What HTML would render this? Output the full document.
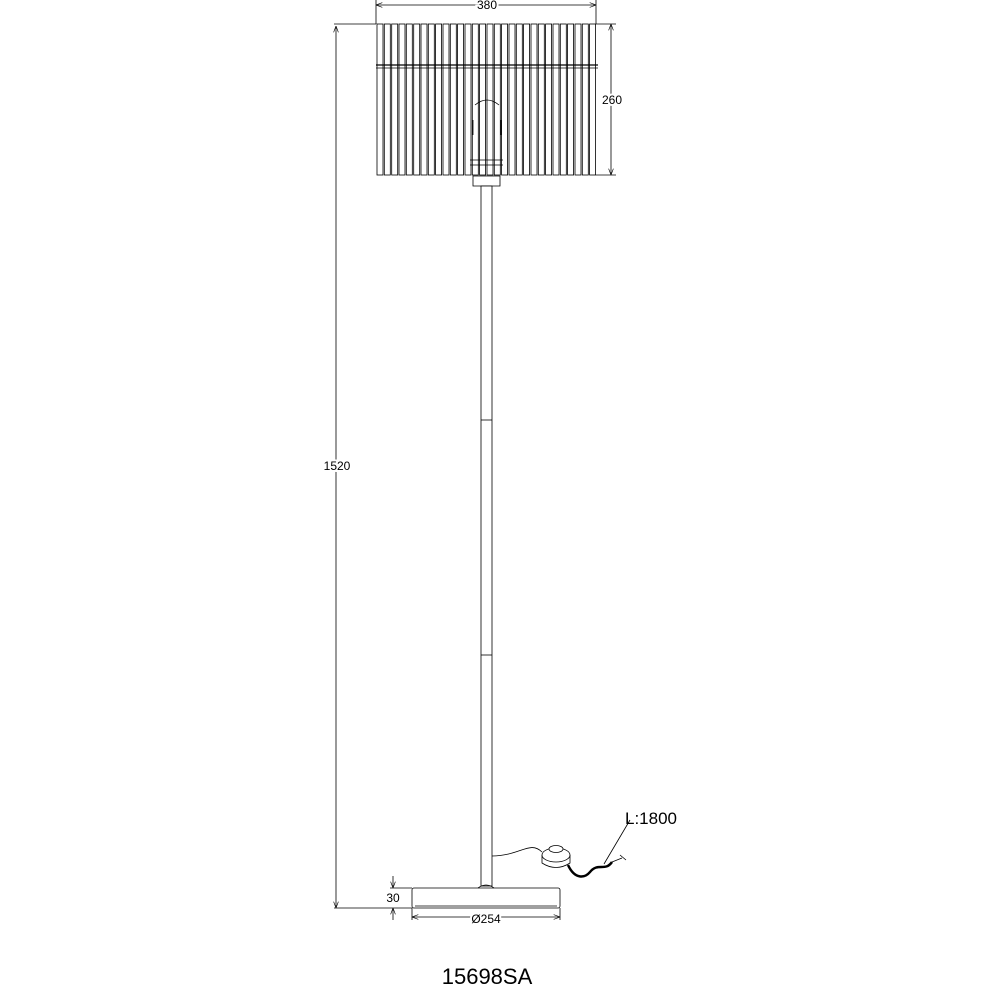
<!DOCTYPE html>
<html><head><style>body{margin:0;background:#fff}svg{display:block}</style></head><body>
<svg width="1000" height="1000" viewBox="0 0 1000 1000" xmlns="http://www.w3.org/2000/svg" font-family="Liberation Sans, sans-serif">
<defs><marker id="a" markerWidth="8" markerHeight="6" refX="8" refY="3" orient="auto-start-reverse"><path d="M0,0 L8,3 L0,6" fill="none" stroke="#000" stroke-width="0.8"/></marker></defs>
<g stroke="#000" fill="none" stroke-width="0.8">
<line x1="376" y1="0" x2="376" y2="24"/><line x1="596" y1="0" x2="596" y2="24"/>
<line x1="376" y1="5" x2="596" y2="5" marker-start="url(#a)" marker-end="url(#a)"/>
<line x1="596" y1="24" x2="616" y2="24"/><line x1="596" y1="175" x2="616" y2="175"/>
<line x1="611" y1="24" x2="611" y2="175" marker-start="url(#a)" marker-end="url(#a)"/>
<line x1="334" y1="24" x2="376" y2="24"/><line x1="334" y1="908" x2="412" y2="908"/>
<line x1="336" y1="26" x2="336" y2="908" marker-start="url(#a)" marker-end="url(#a)"/>
<line x1="390" y1="888" x2="412" y2="888"/>
<line x1="393" y1="876" x2="393" y2="888" marker-end="url(#a)"/>
<line x1="393" y1="920" x2="393" y2="908" marker-end="url(#a)"/>
<line x1="412" y1="908" x2="412" y2="920"/><line x1="560" y1="908" x2="560" y2="920"/>
<line x1="412" y1="917" x2="560" y2="917" marker-start="url(#a)" marker-end="url(#a)"/>
<g>
<rect x="377" y="24" width="6" height="151"/><rect x="384.3" y="24" width="6" height="151"/><rect x="391.7" y="24" width="6" height="151"/><rect x="399" y="24" width="6" height="151"/><rect x="406.3" y="24" width="6" height="151"/><rect x="413.7" y="24" width="6" height="151"/><rect x="421" y="24" width="6" height="151"/><rect x="428.3" y="24" width="6" height="151"/><rect x="435.6" y="24" width="6" height="151"/><rect x="443" y="24" width="6" height="151"/><rect x="450.3" y="24" width="6" height="151"/><rect x="457.6" y="24" width="6" height="151"/><rect x="465" y="24" width="6" height="151"/><rect x="472.3" y="24" width="6" height="151"/><rect x="479.6" y="24" width="6" height="151"/><rect x="487" y="24" width="6" height="151"/><rect x="494.3" y="24" width="6" height="151"/><rect x="501.6" y="24" width="6" height="151"/><rect x="509" y="24" width="6" height="151"/><rect x="516.3" y="24" width="6" height="151"/><rect x="523.6" y="24" width="6" height="151"/><rect x="531" y="24" width="6" height="151"/><rect x="538.3" y="24" width="6" height="151"/><rect x="545.6" y="24" width="6" height="151"/><rect x="553" y="24" width="6" height="151"/><rect x="560.3" y="24" width="6" height="151"/><rect x="567.6" y="24" width="6" height="151"/><rect x="575" y="24" width="6" height="151"/><rect x="582.3" y="24" width="6" height="151"/><rect x="589.6" y="24" width="6" height="151"/>
</g>
<line x1="376" y1="65" x2="598" y2="65" stroke-width="1.2"/><line x1="376" y1="68" x2="598" y2="68"/>
<path d="M473 176 L500 176 L500 186 L473 186 Z" fill="#fff"/>
<path d="M470 165 L503 165 M470 160 L503 160"/>
<path d="M475 105 Q487 95 499 105 M473 120 L473 135 M501 120 L501 135"/>
<rect x="481" y="186" width="11" height="700" fill="#fff"/>
<line x1="481" y1="420" x2="492" y2="420"/><line x1="481" y1="655" x2="492" y2="655"/>
<path d="M478 888 Q486 882 494 888"/>
<rect x="412" y="888" width="148" height="20" rx="2"/>
<line x1="415" y1="906" x2="557" y2="906"/>
<path d="M492 856 C520 856 530 840 542 852"/>
<path d="M542 855 L542 863 Q556 872 570 863 L570 855"/>
<ellipse cx="556" cy="855" rx="14" ry="7" fill="#fff"/><ellipse cx="556" cy="849" rx="7" ry="3.5" fill="#fff"/>
<path d="M568 865 C575 880 585 878 590 872 C598 862 605 872 612 862" stroke-width="2.5"/>
<path d="M612 862 L622 858 M620 855 L626 860"/>
<line x1="604" y1="864" x2="630" y2="820"/>
</g>
<g font-size="12" text-anchor="middle">
<text x="487" y="9" stroke="#fff" stroke-width="4" paint-order="stroke">380</text>
<text x="612" y="104" stroke="#fff" stroke-width="4" paint-order="stroke">260</text>
<text x="337" y="470" stroke="#fff" stroke-width="4" paint-order="stroke">1520</text>
<text x="393" y="902">30</text>
<text x="486" y="923" stroke="#fff" stroke-width="4" paint-order="stroke">Ø254</text>
</g>
<text x="625" y="824" font-size="17">L:1800</text>
<text x="487" y="984" font-size="22" text-anchor="middle">15698SA</text>
</svg>
</body></html>
